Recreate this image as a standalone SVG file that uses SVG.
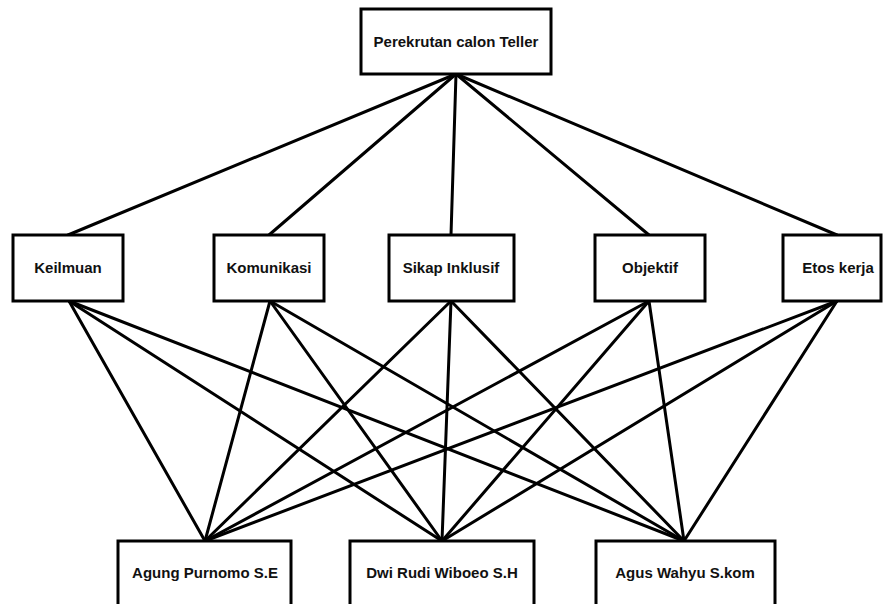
<svg xmlns="http://www.w3.org/2000/svg" width="883" height="604" viewBox="0 0 883 604">
<style>
.box{fill:#fff;stroke:#000;stroke-width:3}
.lbl{font-family:"Liberation Sans",Arial,sans-serif;font-weight:bold;font-size:15px;fill:#111;text-anchor:middle}
.conn line{stroke:#000;stroke-width:3;stroke-linecap:round}
</style>
<rect width="883" height="604" fill="#fff"/>
<g id="connectors" class="conn">
<line x1="456" y1="74" x2="68" y2="235"/>
<line x1="456" y1="74" x2="269" y2="235"/>
<line x1="456" y1="74" x2="451" y2="235"/>
<line x1="456" y1="74" x2="649" y2="235"/>
<line x1="456" y1="74" x2="837" y2="235"/>
<line x1="69" y1="301" x2="205" y2="541"/>
<line x1="69" y1="301" x2="442" y2="541"/>
<line x1="69" y1="301" x2="684" y2="541"/>
<line x1="270" y1="301" x2="205" y2="541"/>
<line x1="270" y1="301" x2="442" y2="541"/>
<line x1="270" y1="301" x2="684" y2="541"/>
<line x1="451" y1="301" x2="205" y2="541"/>
<line x1="451" y1="301" x2="442" y2="541"/>
<line x1="451" y1="301" x2="684" y2="541"/>
<line x1="649" y1="301" x2="205" y2="541"/>
<line x1="649" y1="301" x2="442" y2="541"/>
<line x1="649" y1="301" x2="684" y2="541"/>
<line x1="837" y1="301" x2="205" y2="541"/>
<line x1="837" y1="301" x2="442" y2="541"/>
<line x1="837" y1="301" x2="684" y2="541"/>
</g>
<g id="goal"><rect class="box" x="361" y="9" width="190" height="65"/><text class="lbl" x="456" y="47">Perekrutan calon Teller</text></g>
<g id="keilmuan"><rect class="box" x="13" y="235" width="110" height="66"/><text class="lbl" x="68" y="273">Keilmuan</text></g>
<g id="komunikasi"><rect class="box" x="214" y="235" width="110" height="66"/><text class="lbl" x="269" y="273">Komunikasi</text></g>
<g id="sikap"><rect class="box" x="389" y="235" width="125" height="66"/><text class="lbl" x="451" y="273">Sikap Inklusif</text></g>
<g id="objektif"><rect class="box" x="595" y="235" width="110" height="66"/><text class="lbl" x="650" y="273">Objektif</text></g>
<g id="etos"><rect class="box" x="783" y="235" width="98" height="66"/><text class="lbl" x="838" y="273">Etos kerja</text></g>
<g id="agung"><rect class="box" x="118" y="541" width="173" height="80"/><text class="lbl" x="205" y="578">Agung Purnomo S.E</text></g>
<g id="dwi"><rect class="box" x="350" y="541" width="184" height="80"/><text class="lbl" x="442" y="578">Dwi Rudi Wiboeo S.H</text></g>
<g id="agus"><rect class="box" x="596" y="541" width="179" height="80"/><text class="lbl" x="685" y="578">Agus Wahyu S.kom</text></g>
</svg>
